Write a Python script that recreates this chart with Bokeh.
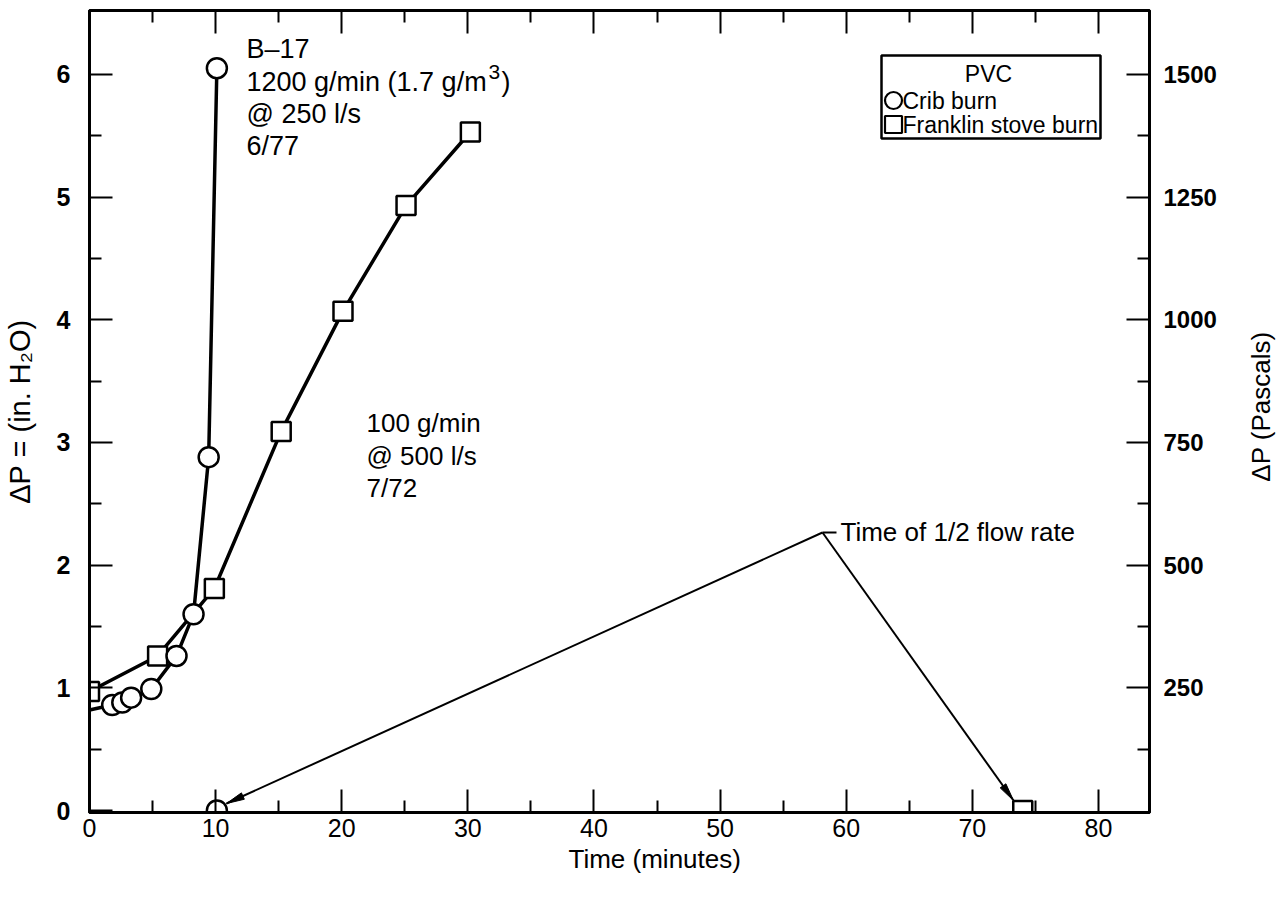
import math
from bokeh.plotting import figure
from bokeh.layouts import row
from bokeh.models import Range1d, LinearAxis, FixedTicker, BoxAnnotation, Title
from bokeh.embed import file_html
from bokeh.resources import INLINE
from bokeh.core.properties import value

# ---------------- data ----------------
# Crib burn (B-17): first point is where the line leaves the axis (no marker drawn)
crib_time = [0.0, 1.8, 2.6, 3.3, 4.9, 6.9, 8.25, 9.45, 10.1]
crib_dp = [0.82, 0.86, 0.88, 0.92, 0.99, 1.26, 1.60, 2.88, 6.05]
# Franklin stove burn
stove_time = [0.0, 5.4, 9.9, 15.2, 20.1, 25.1, 30.2]
stove_dp = [0.97, 1.26, 1.81, 3.09, 4.07, 4.93, 5.53]
# time of 1/2 flow rate (crib, stove)
half_crib_time = [10.1]
half_stove_time = [74.0]
half_dp = [0.0]

x_ticks = [0, 10, 20, 30, 40, 50, 60, 70, 80]
x_minor = [5, 15, 25, 35, 45, 55, 65, 75]
y_ticks = [0, 1, 2, 3, 4, 5, 6]
y_minor = [0.5, 1.5, 2.5, 3.5, 4.5, 5.5]
pa_ticks = [250, 500, 750, 1000, 1250, 1500]
pa_minor = [125, 375, 625, 875, 1125, 1375]

x_title = "Time (minutes)"
y_title = "\u0394P = (in. H\u2082O)"
y2_title = "\u0394P (Pascals)"
note_b17 = ["B\u201317", "1200 g/min (1.7 g/m", "@ 250 l/s", "6/77"]
note_b17_sup = "3"
note_b17_close = ")"
note_100 = ["100 g/min", "@ 500 l/s", "7/72"]
note_half = "Time of 1/2 flow rate"
legend_title = "PVC"
legend_labels = ["Crib burn", "Franklin stove burn"]

# ---------------- layout ----------------
W, H = 1284, 899
SIDE_W = 50                      # strip on the right that holds the Pascal title
PW = W - SIDE_W
FL, FR, FT, FB = 89, 1149, 10, 812
X0, X1 = 0.0, 84.05
Y0, Y1 = -0.016, 6.52
PA = 250.0  # Pa per in. H2O (axis relation)

def dx(px):
    return X0 + (px - FL) / (FR - FL) * (X1 - X0)

def dy(py):
    return Y0 + (FB - py) / (FB - FT) * (Y1 - Y0)

FONT = "Liberation Sans"

p = figure(width=PW, height=H, output_backend="svg", toolbar_location=None,
           x_range=Range1d(X0, X1), y_range=Range1d(Y0, Y1),
           min_border_left=FL, min_border_right=PW - FR,
           min_border_top=FT, min_border_bottom=H - FB,
           x_axis_location=None, y_axis_location=None)
p.extra_y_ranges = {"pa": Range1d(Y0 * PA, Y1 * PA)}
p.xgrid.visible = False
p.ygrid.visible = False
p.outline_line_color = "black"
p.outline_line_width = 3
p.background_fill_color = "white"
p.border_fill_color = "white"


def style_axis(ax, ticks, minor, size="25px", style="normal"):
    ax.ticker = FixedTicker(ticks=ticks, minor_ticks=minor)
    ax.axis_line_width = 3
    ax.axis_line_color = "black"
    ax.major_tick_in = 23
    ax.major_tick_out = 0
    ax.minor_tick_in = 12
    ax.minor_tick_out = 0
    ax.major_tick_line_width = 2
    ax.minor_tick_line_width = 2
    ax.major_label_text_font = FONT
    ax.major_label_text_font_size = size
    ax.major_label_text_font_style = style
    ax.major_label_text_color = "black"
    ax.axis_label_text_font = FONT
    ax.axis_label_text_font_size = "26px"
    ax.axis_label_text_font_style = "normal"
    ax.axis_label_text_color = "black"


xb = LinearAxis()
style_axis(xb, x_ticks, x_minor)
xb.major_label_standoff = 6
p.add_layout(xb, "below")
p.add_layout(Title(text=x_title, align="left", offset=479, text_font=FONT,
                   text_font_size="26px", text_font_style="normal",
                   text_color="black", standoff=4), "below")

xt = LinearAxis()
style_axis(xt, x_ticks, x_minor)
xt.major_label_text_font_size = "0px"
xt.major_label_standoff = 0
p.add_layout(xt, "above")

yl = LinearAxis(axis_label=y_title)
style_axis(yl, y_ticks, y_minor, size="25px", style="bold")
yl.major_label_standoff = 19
yl.axis_label_standoff = 18
yl.axis_label_text_font_size = "29px"
p.add_layout(yl, "left")

yr = LinearAxis(y_range_name="pa")
style_axis(yr, pa_ticks, pa_minor, size="24px", style="bold")
yr.major_label_standoff = 14
p.add_layout(yr, "right")

# ---------------- data lines and markers ----------------
p.line(crib_time, crib_dp, line_color="black", line_width=3.5)
p.line(stove_time, stove_dp, line_color="black", line_width=3.5)
p.scatter(stove_time, stove_dp, marker="square", size=19, fill_color="white",
          line_color="black", line_width=2.5)
p.scatter(crib_time[1:], crib_dp[1:], marker="circle", size=20, fill_color="white",
          line_color="black", line_width=2.5)
p.scatter(half_crib_time, half_dp, marker="circle", size=20, fill_color="white",
          line_color="black", line_width=2.5)
p.scatter(half_stove_time, half_dp, marker="square", size=19, fill_color="white",
          line_color="black", line_width=2.5)

# ---------------- "time of 1/2 flow rate" callout ----------------
apex = (dx(822), dy(532))
tips = [(dx(226), dy(803)), (dx(1013), dy(800))]
for tx, ty in tips:
    p.line([apex[0], tx], [apex[1], ty], line_color="black", line_width=2)
p.line([apex[0], dx(836)], [apex[1], apex[1]], line_color="black", line_width=2)

# slender filled arrowheads (computed in pixel space)
ax_s = (FR - FL) / (X1 - X0)
ay_s = (FB - FT) / (Y1 - Y0)
hx, hy = [], []
for tx, ty in tips:
    vx = (apex[0] - tx) * ax_s
    vy = (apex[1] - ty) * ay_s
    L = (vx * vx + vy * vy) ** 0.5
    ux, uy = vx / L, vy / L
    bx, by = ux * 18, uy * 18
    nx, ny = -uy * 3.5, ux * 3.5
    hx.append([tx, tx + (bx + nx) / ax_s, tx + (bx - nx) / ax_s])
    hy.append([ty, ty + (by + ny) / ay_s, ty + (by - ny) / ay_s])
p.patches(hx, hy, fill_color="black", line_color="black", line_width=1)

TXT = dict(text_font=value(FONT), text_font_size="26px", text_color="black",
           text_baseline="middle", text_align="left")
p.text([dx(840)], [dy(531)], text=[note_half], **TXT)

# B-17 block; the superscript 3 is placed after the measured base-line width
B17_X = 246
B17_FS = 27
b17_y = [48, 81, 113, 145]
p.text([dx(B17_X)] * len(note_b17), [dy(v) for v in b17_y], text=note_b17,
       **{**TXT, "text_font_size": f"{B17_FS}px"})
base_w = 8.893 * B17_FS          # Arial/Liberation advance of "1200 g/min (1.7 g/m"
sup_x = B17_X + base_w + 2
p.text([dx(sup_x)], [dy(b17_y[1] - 10)], text=[note_b17_sup],
       **{**TXT, "text_font_size": "21px"})
p.text([dx(sup_x + 13)], [dy(b17_y[1])], text=[note_b17_close],
       **{**TXT, "text_font_size": f"{B17_FS}px"})

n100_y = [422, 455, 487]
p.text([dx(366)] * len(note_100), [dy(v) for v in n100_y], text=note_100, **TXT)

# ---------------- legend box ----------------
LTXT = {**TXT, "text_font_size": "23px"}
p.add_layout(BoxAnnotation(left=dx(881), right=dx(1100), top=dy(55), bottom=dy(138),
                           fill_alpha=0, line_color="black", line_alpha=1,
                           line_width=2.5))
p.text([dx(988)], [dy(73)], text=[legend_title], **{**LTXT, "text_align": "center"})
p.scatter([dx(893)], [dy(100)], marker="circle", size=17, fill_color="white",
          line_color="black", line_width=2.2)
p.scatter([dx(893)], [dy(124)], marker="square", size=17, fill_color="white",
          line_color="black", line_width=2.2)
p.text([dx(902), dx(902)], [dy(100), dy(124)], text=legend_labels, **LTXT)

# ---------------- right strip: Pascal axis title (reads bottom to top) ----------------
s = figure(width=SIDE_W, height=H, output_backend="svg", toolbar_location=None,
           x_range=Range1d(0, SIDE_W), y_range=Range1d(0, H),
           min_border=0, x_axis_location=None, y_axis_location=None)
s.xgrid.visible = False
s.ygrid.visible = False
s.outline_line_color = None
s.background_fill_color = "white"
s.border_fill_color = "white"
s.text([1260 - PW], [H - 444], text=[y2_title], angle=math.pi / 2,
       text_font=value(FONT), text_font_size="26px", text_color="black",
       text_align="center", text_baseline="middle")

layout = row(p, s, spacing=0)
open("out.html", "w").write(file_html(layout, INLINE))
